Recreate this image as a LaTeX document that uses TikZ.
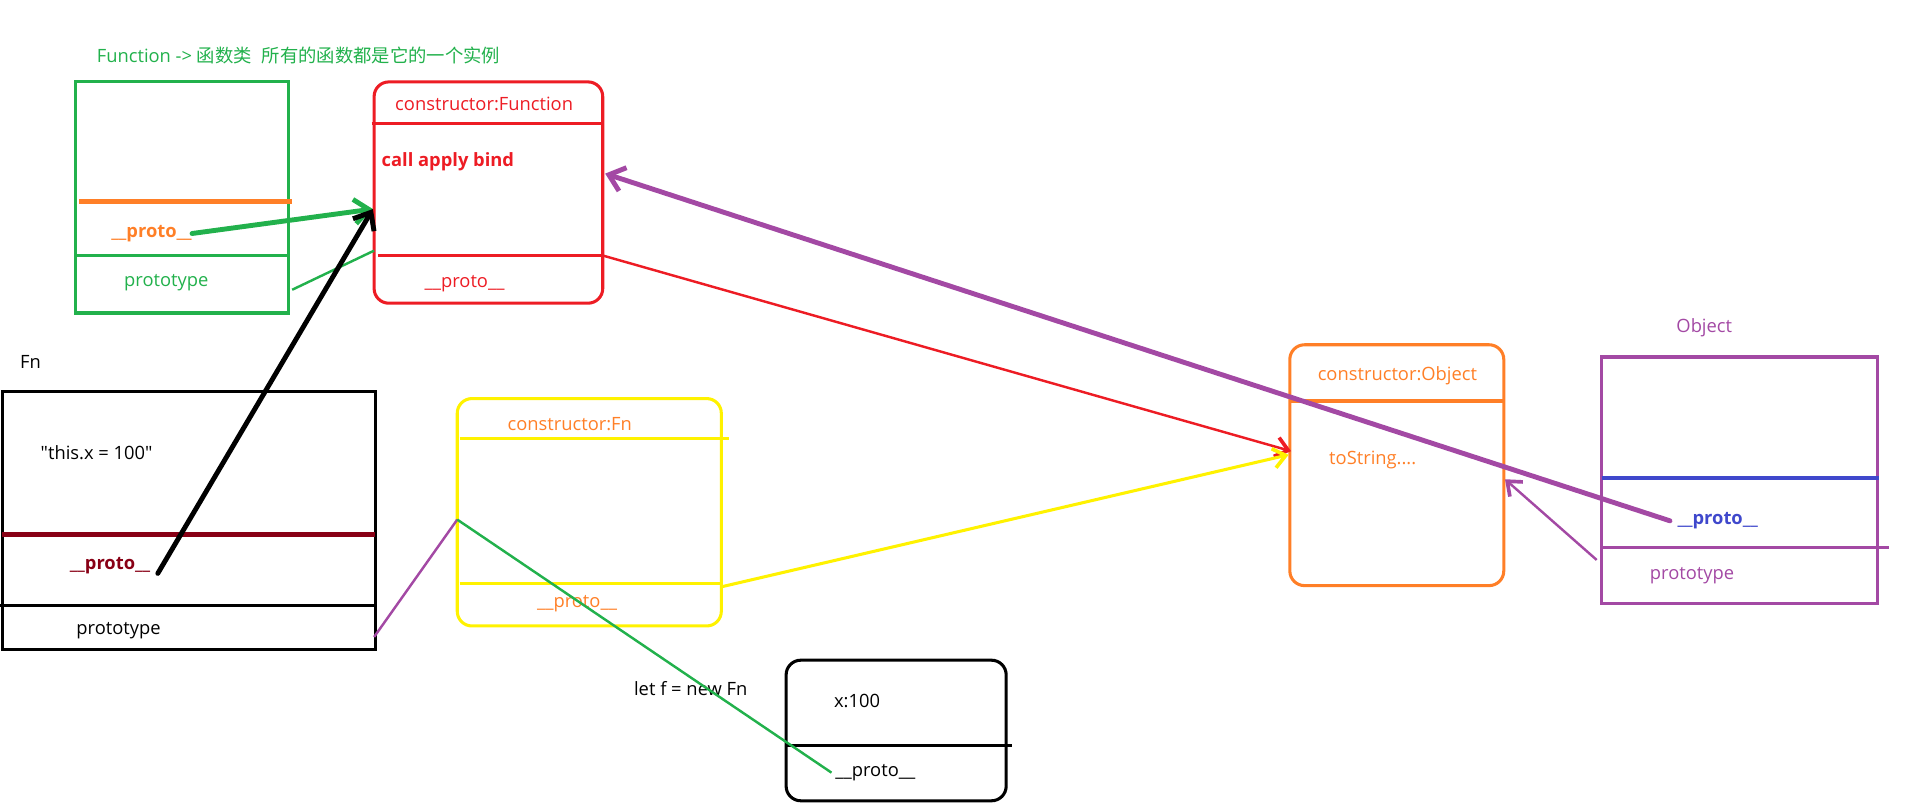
\documentclass[tikz,border=0pt]{standalone}
\usepackage{fontspec}
\setmainfont{Open Sans}
\newfontfamily\cjk{Noto Sans CJK SC}
\usetikzlibrary{arrows.meta}
\definecolor{pgreen}{HTML}{22B14C}
\definecolor{porange}{HTML}{FF7F27}
\definecolor{pred}{HTML}{ED1C24}
\definecolor{pdarkred}{HTML}{880015}
\definecolor{pyellow}{HTML}{FFF200}
\definecolor{ppurple}{HTML}{A349A4}
\definecolor{pblue}{HTML}{3F48CC}
\begin{document}
\begin{tikzpicture}[x=1pt, y=-1pt,
		box_style/.style={draw, line width=2.5pt, inner sep=0pt},
		round_style/.style={box_style, rounded corners=12pt},
		text_style/.style={inner sep=0pt, font=\fontsize{15}{18}\selectfont},
		bold_style/.style={inner sep=0pt, font=\fontsize{15}{18}\selectfont\bfseries},
		thick_edge/.style={line width=4pt, line cap=round, -{Straight Barb[length=12pt,width=20pt,line width=4pt]}},
		thin_edge/.style={line width=2pt, -{Straight Barb[length=10pt,width=16pt,line width=3pt]}},
		plain_edge/.style={line width=2pt}]
		\useasboundingbox (0,0) rectangle (1568,660);
		% Function
		\node[text_style, text=pgreen, anchor=west] (title) at (79,45) {Function -> {\cjk 函数类\hspace{8pt}所有的函数都是它的一个实例}};
		\node[box_style, draw=pgreen, minimum width=174pt, minimum height=189pt] (funcbox) at (149,161.5) {};
		\draw[porange, line width=4pt] (65,165) -- (239,165);
		\draw[pgreen, line width=2.5pt] (62,209) -- (236,209);
		\node[bold_style, text=porange] (gproto) at (124,191) {\_\_proto\_\_};
		\node[text_style, text=pgreen] (gprototype) at (136,231) {prototype};
		% Function.prototype
		\node[round_style, draw=pred, minimum width=187pt, minimum height=181pt] (fpbox) at (399.5,157.5) {};
		\draw[pred, line width=2.5pt] (304,101) -- (493,101);
		\draw[pred, line width=2.5pt] (309,209) -- (493,209);
		\node[text_style, text=pred] (fpctor) at (396,85) {constructor:Function};
		\node[bold_style, text=pred, anchor=west] (fpcall) at (312,132) {call apply bind};
		\node[text_style, text=pred] (fpproto) at (380,232) {\_\_proto\_\_};
		% Fn
		\node[text_style] (fnname) at (25,296) {Fn};
		\node[box_style, draw=black, minimum width=305pt, minimum height=211pt] (fnbox) at (154.5,425.5) {};
		\node[text_style] (fnbody) at (79,370) {\textquotedbl this.x = 100\textquotedbl};
		\draw[pdarkred, line width=4pt] (2,437) -- (307,437);
		\draw[black, line width=2.5pt] (0,495) -- (307,495);
		\node[bold_style, text=pdarkred] (fnproto) at (90,463) {\_\_proto\_\_};
		\node[text_style] (fnprototype) at (97,516) {prototype};
		% Fn.prototype
		\node[round_style, draw=pyellow, minimum width=216pt, minimum height=186pt] (ybox) at (482,419) {};
		\draw[pyellow, line width=2.5pt] (376,359) -- (596,359);
		\draw[pyellow, line width=2.5pt] (376,477) -- (590,477);
		\node[text_style, text=porange] (yctor) at (466,347) {constructor:Fn};
		\node[text_style, text=porange] (yproto) at (472,494) {\_\_proto\_\_};
		% Object.prototype
		\node[round_style, draw=porange, minimum width=175pt, minimum height=197pt] (opbox) at (1142.5,380.5) {};
		\draw[porange, line width=2.5pt] (1055,328) -- (1230,328);
		\node[text_style, text=porange] (opctor) at (1143,307) {constructor:Object};
		\node[text_style, text=porange, anchor=west] (opstr) at (1087,376) {toString....};
		% Object
		\node[text_style, text=ppurple] (oname) at (1394,268) {Object};
		\node[box_style, draw=ppurple, minimum width=226pt, minimum height=202pt] (obox) at (1423,393) {};
		\draw[pblue, line width=4pt] (1310,391) -- (1537,391);
		\draw[ppurple, line width=2.5pt] (1310,448) -- (1545,448);
		\node[bold_style, text=pblue] (oproto) at (1405,426) {\_\_proto\_\_};
		\node[text_style, text=ppurple] (oprototype) at (1384,471) {prototype};
		% f
		\node[text_style] (fnew) at (565,563) {let f = new Fn};
		\node[round_style, draw=black, minimum width=180pt, minimum height=115pt] (ibox) at (733,597.5) {};
		\draw[black, line width=2.5pt] (643,610) -- (828,610);
		\node[text_style] (ix) at (701,573) {x:100};
		\node[text_style] (iproto) at (716,632) {\_\_proto\_\_};
		% connector ends
		\coordinate (fpin) at (305,171);
		\coordinate (fpleft) at (306,205);
		\coordinate (fpright) at (495,142);
		\coordinate (fpout) at (493,209);
		\coordinate (gout) at (239,237);
		\coordinate (fnout) at (306,521);
		\coordinate (yleft) at (374,425);
		\coordinate (yout) at (590,480);
		\coordinate (opin) at (1056,369);
		\coordinate (opyin) at (1054,372);
		\coordinate (opright) at (1231,392);
		\coordinate (oout) at (1306,458);
		\draw[thick_edge, pgreen] (gproto.east) -- (fpin);
		\draw[plain_edge, pgreen] (gout) -- (fpleft);
		\draw[thick_edge, black] ([xshift=6pt,yshift=-6pt]fnproto.east) -- (fpin);
		\draw[thin_edge, pred] (fpout) -- (opin);
		\draw[thick_edge, ppurple] ([xshift=-6pt]oproto.west) -- (fpright);
		\draw[plain_edge, ppurple] (fnout) -- (yleft);
		\draw[plain_edge, pgreen] (yleft) -- ([xshift=-3pt]iproto.west);
		\draw[thin_edge, pyellow, line width=2.5pt] (yout) -- (opyin);
		\draw[thin_edge, ppurple] (oout) -- (opright);
		\end{tikzpicture}
\end{document}
